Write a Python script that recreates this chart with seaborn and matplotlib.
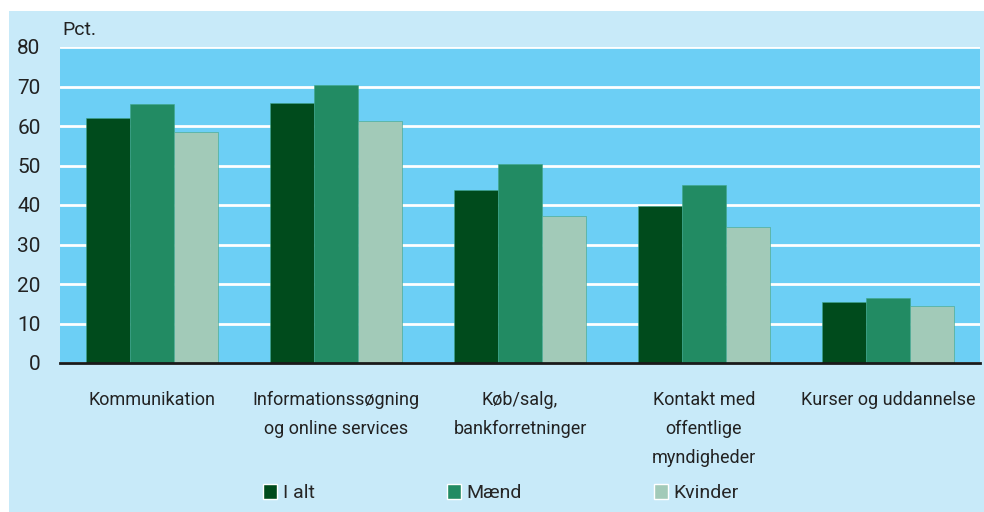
import pandas as pd
import matplotlib.pyplot as plt
import seaborn as sns
from matplotlib.patches import Rectangle

# Data
kategorier = ["Kommunikation", "Informationssøgning\nog online services", "Køb/salg,\nbankforretninger",
              "Kontakt med\noffentlige\nmyndigheder", "Kurser og uddannelse"]
i_alt = [62.0, 65.8, 43.8, 39.7, 15.5]
maend = [65.6, 70.4, 50.3, 45.1, 16.5]
kvinder = [58.5, 61.3, 37.3, 34.4, 14.5]
serier = ["I alt", "Mænd", "Kvinder"]
farver = ["#004B1C", "#228B63", "#A2CAB8"]

df = pd.DataFrame({"Kategori": kategorier * 3,
                   "Gruppe": [s for s in serier for _ in kategorier],
                   "Pct": i_alt + maend + kvinder})

sns.set_style("white")
plt.rcParams["font.family"] = ["Roboto", "DejaVu Sans"]

fig = plt.figure(figsize=(9.84, 5.12), dpi=100)
fig.patch.set_facecolor("white")
fig.patches.append(Rectangle((9 / 984, 0), 1, 1 - 11 / 512, transform=fig.transFigure,
                             facecolor="#C8EAF9", edgecolor="none", zorder=-10))

ax = fig.add_axes([60 / 984, 149 / 512, 920 / 984, 316 / 512])
ax.set_facecolor("#6CCFF5")
sns.barplot(data=df, x="Kategori", y="Pct", hue="Gruppe", palette=farver, saturation=1,
            width=0.72, ax=ax, legend=False, edgecolor="#3FA58A", linewidth=0.4)

ax.set_ylim(0, 80)
ax.set_xlim(-0.5, 4.5)
ax.set_yticks(range(0, 81, 10))
ax.yaxis.grid(True, color="white", linewidth=2)
ax.set_axisbelow(True)
for s in ["top", "right", "left"]:
    ax.spines[s].set_visible(False)
ax.spines["bottom"].set_color("#1a1a1a")
ax.spines["bottom"].set_linewidth(2)
ax.tick_params(axis="both", length=0, labelsize=13, colors="#222222")
ax.tick_params(axis="y", pad=14, labelsize=15)
ax.tick_params(axis="x", pad=20)
for lbl in ax.get_xticklabels():
    lbl.set_linespacing(1.8)
    lbl.set_verticalalignment("top")
ax.set_xlabel("")
ax.set_ylabel("")
fig.text(62 / 984, 1 - 30 / 512, "Pct.", fontsize=14, color="#222222", va="center")

handles = [Rectangle((0, 0), 1, 1, facecolor=c) for c in farver]
fig.legend(handles, serier, loc="center", bbox_to_anchor=(501 / 984, 1 - 493 / 512), ncol=3,
           frameon=False, fontsize=14, handlelength=0.7, handleheight=0.8, handletextpad=0.3,
           columnspacing=6.8)

fig.savefig("out.png", dpi=100)
